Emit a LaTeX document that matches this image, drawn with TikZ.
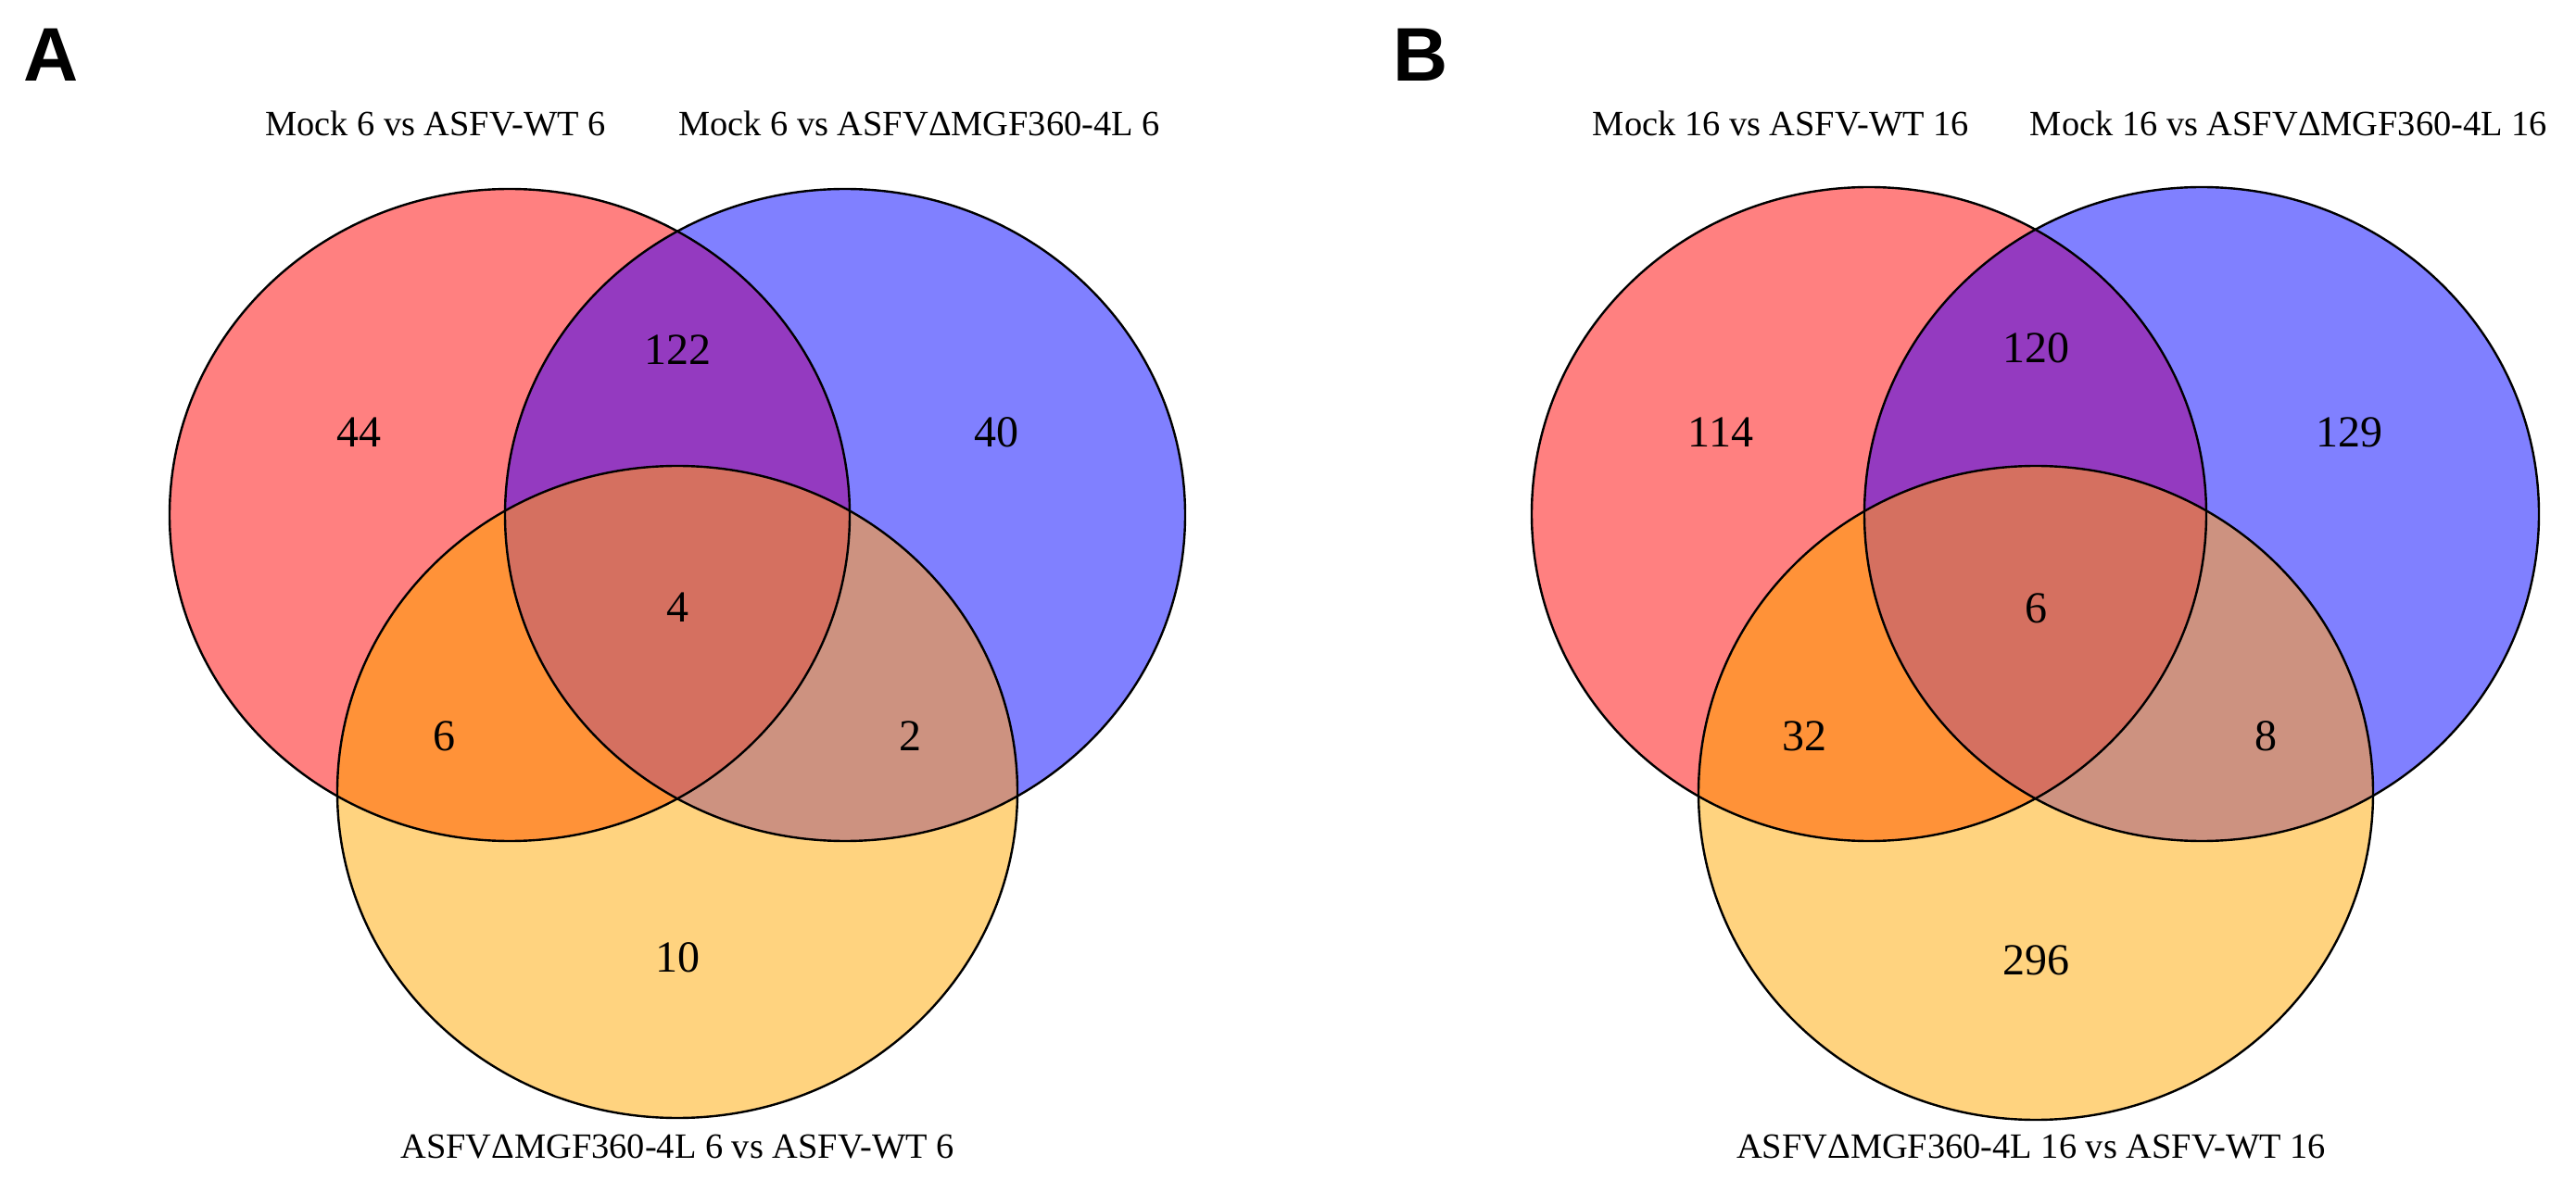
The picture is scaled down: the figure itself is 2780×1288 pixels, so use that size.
\documentclass[tikz,border=0pt]{standalone}
\usepackage{fontspec}
\setmainfont{Liberation Serif}
\newfontfamily\panelfont{Liberation Sans}
\definecolor{onlyred}{HTML}{FF8080}
\definecolor{onlyblue}{HTML}{8080FF}
\definecolor{onlyyellow}{HTML}{FFD37F}
\definecolor{redblue}{HTML}{943AC0}
\definecolor{redyellow}{HTML}{FF9238}
\definecolor{blueyellow}{HTML}{CD9280}
\definecolor{allthree}{HTML}{D57060}
% #1 red centre, #2 blue centre, #3 yellow centre, #4 x radius, #5 y radius
\newcommand\myvenn[5]{%
  \fill[onlyred] (#1) ellipse [x radius=#4,y radius=#5];
  \fill[onlyblue] (#2) ellipse [x radius=#4,y radius=#5];
  \fill[onlyyellow] (#3) ellipse [x radius=#4,y radius=#5];
  \begin{scope}
    \clip (#1) ellipse [x radius=#4,y radius=#5];
    \fill[redblue] (#2) ellipse [x radius=#4,y radius=#5];
    \fill[redyellow] (#3) ellipse [x radius=#4,y radius=#5];
  \end{scope}
  \begin{scope}
    \clip (#2) ellipse [x radius=#4,y radius=#5];
    \fill[blueyellow] (#3) ellipse [x radius=#4,y radius=#5];
    \clip (#1) ellipse [x radius=#4,y radius=#5];
    \fill[allthree] (#3) ellipse [x radius=#4,y radius=#5];
  \end{scope}
  \draw[setline] (#1) ellipse [x radius=#4,y radius=#5];
  \draw[setline] (#2) ellipse [x radius=#4,y radius=#5];
  \draw[setline] (#3) ellipse [x radius=#4,y radius=#5];
}
\begin{document}
\begin{tikzpicture}[x=0.5pt,y=-0.5pt,
  setline/.style={draw=black,line width=1.2pt},
  title/.style={font=\fontsize{19.2}{23}\selectfont,inner sep=0pt,anchor=base},
  count/.style={font=\fontsize{24}{28}\selectfont,inner sep=0pt},
  panel/.style={font=\panelfont\bfseries\fontsize{41}{45}\selectfont,inner sep=0pt,anchor=north west}]
\useasboundingbox (0,0) rectangle (2780,1288);
\fill[white] (0,0) rectangle (2780,1288);
% ---------- Panel A ----------
\coordinate (Ar) at (550,556);
\coordinate (Ab) at (912,556);
\coordinate (Ay) at (731,855);
\myvenn{Ar}{Ab}{Ay}{183.5pt}{176pt}
\node[panel] (pA) at (25,31) {A};
\node[title] (tA1) at (470,147) {Mock 6 vs ASFV-WT 6};
\node[title] (tA2) at (992,147) {Mock 6 vs ASFVΔMGF360-4L 6};
\node[title] (tA3) at (731,1250) {ASFVΔMGF360-4L 6 vs ASFV-WT 6};
\node[count] (nA1) at (387,467) {44};
\node[count] (nA2) at (731,378) {122};
\node[count] (nA3) at (1075,467) {40};
\node[count] (nA4) at (731,656) {4};
\node[count] (nA5) at (479,795) {6};
\node[count] (nA6) at (982,795) {2};
\node[count] (nA7) at (731,1034) {10};
% ---------- Panel B ----------
\coordinate (Br) at (2017,555);
\coordinate (Bb) at (2376,555);
\coordinate (By) at (2197,856);
\myvenn{Br}{Bb}{By}{182pt}{176.5pt}
\node[panel] (pB) at (1503,31) {B};
\node[title] (tB1) at (1922,147) {Mock 16 vs ASFV-WT 16};
\node[title] (tB2) at (2470,147) {Mock 16 vs ASFVΔMGF360-4L 16};
\node[title] (tB3) at (2192,1250) {ASFVΔMGF360-4L 16 vs ASFV-WT 16};
\node[count] (nB1) at (1857,467) {114};
\node[count] (nB2) at (2197,376) {120};
\node[count] (nB3) at (2535,467) {129};
\node[count] (nB4) at (2197,657) {6};
\node[count] (nB5) at (1947,795) {32};
\node[count] (nB6) at (2445,795) {8};
\node[count] (nB7) at (2197,1037) {296};
\end{tikzpicture}
\end{document}
